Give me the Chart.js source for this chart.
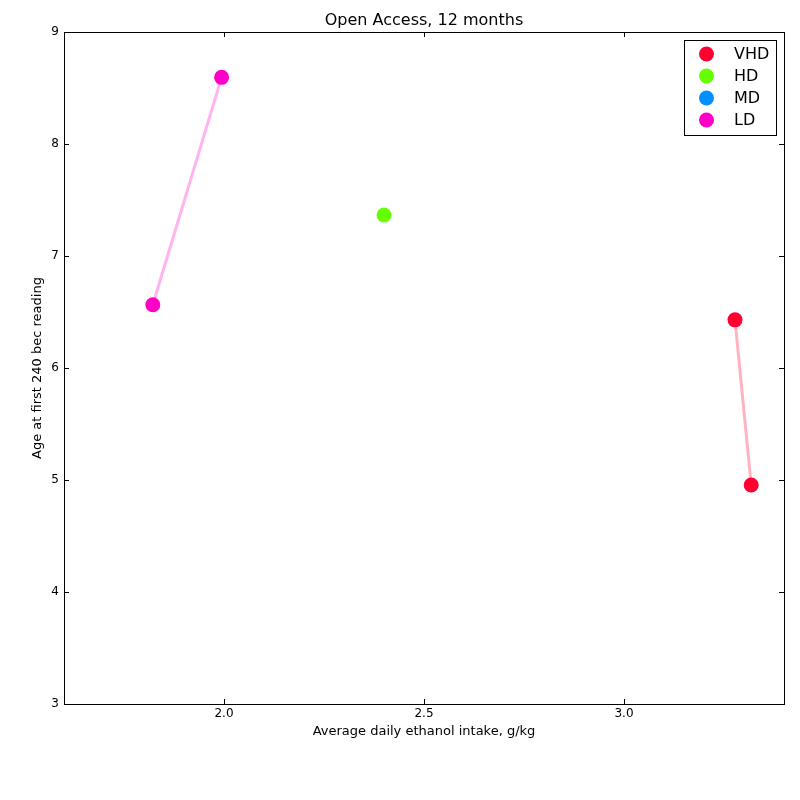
<!DOCTYPE html>
<html>
<head>
<meta charset="utf-8">
<title>Open Access, 12 months</title>
<script src="https://cdn.jsdelivr.net/npm/chart.js@4.4.1/dist/chart.umd.min.js"></script>
<style>
    html, body { margin: 0; padding: 0; background: #fff; }
    #wrap { width: 800px; height: 800px; }
</style>
</head>
<body>
<div id="wrap"><canvas id="chart" width="800" height="800"></canvas></div>
<script>
// groups and their points (x = intake g/kg, y = age)
var groups = ['VHD', 'HD', 'MD', 'LD'];
var vhdX = [3.2775, 3.318];
var vhdY = [6.43, 4.955];
var hdX = [2.40];
var hdY = [7.366];
var mdX = [];
var mdY = [];
var ldX = [1.822, 1.994];
var ldY = [6.565, 8.595];

var xTicks = [2.0, 2.5, 3.0];
var yTicks = [3, 4, 5, 6, 7, 8, 9];

var dotColors = ['#ff0030', '#66ff00', '#0090ff', '#ff00c8'];
var lineColors = ['#ffb3c1', '#d1ffb3', '#b3deff', '#ffb3ef'];

function toPoints(xs, ys) {
    return xs.map(function (x, i) { return { x: x, y: ys[i] }; });
}

var seriesX = [vhdX, hdX, mdX, ldX];
var seriesY = [vhdY, hdY, mdY, ldY];

var datasets = groups.map(function (name, i) {
    return {
        label: name,
        data: toPoints(seriesX[i], seriesY[i]),
        showLine: true,
        borderColor: lineColors[i],
        borderWidth: 3,
        backgroundColor: dotColors[i],
        pointBackgroundColor: dotColors[i],
        pointBorderColor: dotColors[i],
        pointBorderWidth: 0,
        pointRadius: 7.5,
        pointHoverRadius: 7.5
    };
});

// box round the plot with small inward ticks on all four sides
var frame = {
    id: 'frame',
    beforeDatasetsDraw: function (chart) {
        var a = chart.chartArea, ctx = chart.ctx;
        var xs = chart.scales.x, ys = chart.scales.y;
        ctx.save();
        ctx.strokeStyle = '#000';
        ctx.lineWidth = 1;
        ctx.beginPath();
        xTicks.forEach(function (v) {
            var px = Math.round(xs.getPixelForValue(v)) + 0.5;
            ctx.moveTo(px, a.bottom); ctx.lineTo(px, a.bottom - 5);
            ctx.moveTo(px, a.top); ctx.lineTo(px, a.top + 5);
        });
        yTicks.forEach(function (v) {
            var py = Math.round(ys.getPixelForValue(v)) + 0.5;
            ctx.moveTo(a.left, py); ctx.lineTo(a.left + 5, py);
            ctx.moveTo(a.right, py); ctx.lineTo(a.right - 5, py);
        });
        ctx.stroke();
        ctx.strokeRect(Math.round(a.left) + 0.5, Math.round(a.top) + 0.5,
            Math.round(a.right - a.left), Math.round(a.bottom - a.top));
        ctx.restore();
    }
};

// legend in the top right corner, like matplotlib
var boxLegend = {
    id: 'boxLegend',
    afterDraw: function (chart) {
        var a = chart.chartArea, ctx = chart.ctx;
        var left = a.right - 100, top = a.top + 8;
        ctx.save();
        ctx.fillStyle = '#fff';
        ctx.fillRect(left, top, 92, 95);
        ctx.strokeStyle = '#000';
        ctx.lineWidth = 1;
        ctx.strokeRect(left + 0.5, top + 0.5, 92, 95);
        ctx.font = '16px "DejaVu Sans"';
        ctx.textBaseline = 'middle';
        chart.data.datasets.forEach(function (ds, i) {
            var cy = top + 14 + i * 22;
            ctx.fillStyle = ds.pointBackgroundColor;
            ctx.beginPath();
            ctx.arc(left + 22.5, cy, 7.5, 0, Math.PI * 2);
            ctx.fill();
            ctx.fillStyle = '#000';
            ctx.fillText(ds.label, left + 50, cy + 1);
        });
        ctx.restore();
    }
};

document.addEventListener('DOMContentLoaded', function () {
    var ctx = document.getElementById('chart').getContext('2d');
    new Chart(ctx, {
        type: 'scatter',
        data: { datasets: datasets },
        options: {
            responsive: false,
            animation: false,
            events: [],
            layout: { padding: { left: 0, right: 16, top: 0, bottom: 0 } },
            plugins: {
                legend: { display: false },
                tooltip: { enabled: false },
                title: {
                    display: true,
                    fullSize: false,
                    text: 'Open Access, 12 months',
                    color: '#000',
                    font: { family: 'DejaVu Sans', size: 16, weight: 'normal' },
                    padding: { top: 11.4, bottom: 1.4 }
                }
            },
            scales: {
                x: {
                    type: 'linear',
                    min: 1.6,
                    max: 3.4,
                    grid: { display: false, drawTicks: false },
                    border: { display: false },
                    afterBuildTicks: function (s) {
                        s.ticks = xTicks.map(function (v) { return { value: v }; });
                    },
                    afterFit: function (s) { s.height = 96; },
                    ticks: {
                        color: '#000',
                        padding: 3,
                        maxRotation: 0,
                        font: { family: 'DejaVu Sans', size: 12 },
                        callback: function (v) { return Number(v).toFixed(1); }
                    },
                    title: {
                        display: true,
                        text: 'Average daily ethanol intake, g/kg',
                        color: '#000',
                        font: { family: 'DejaVu Sans', size: 13 },
                        padding: { top: 0, bottom: 61 }
                    }
                },
                y: {
                    type: 'linear',
                    min: 3,
                    max: 9,
                    grid: { display: false, drawTicks: false },
                    border: { display: false },
                    afterBuildTicks: function (s) {
                        s.ticks = yTicks.map(function (v) { return { value: v }; });
                    },
                    afterFit: function (s) { s.width = 64; },
                    ticks: {
                        color: '#000',
                        padding: 5,
                        font: { family: 'DejaVu Sans', size: 12 },
                        callback: function (v) { return String(v); }
                    },
                    title: {
                        display: true,
                        text: 'Age at first 240 bec reading',
                        color: '#000',
                        font: { family: 'DejaVu Sans', size: 13 },
                        padding: { top: 30.2, bottom: 0 }
                    }
                }
            }
        },
        plugins: [frame, boxLegend]
    });
});
</script>
</body>
</html>
